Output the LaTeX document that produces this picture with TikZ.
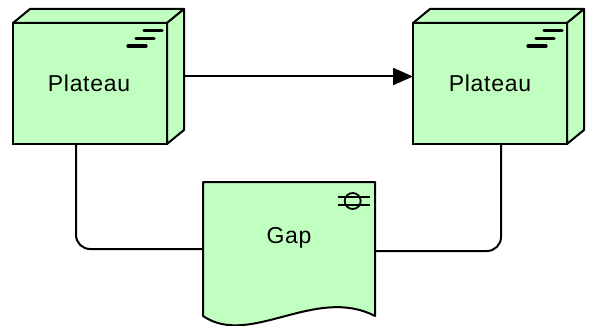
\documentclass[tikz,border=0pt]{standalone}
\usepackage{fontspec}
\setmainfont{Liberation Sans}[LetterSpace=3]
\usetikzlibrary{positioning, calc, arrows.meta}
\definecolor{plateaugreen}{HTML}{C0FFC0}
\newcommand{\plateauback}[1]{
    \draw[shape3d] (#1.north west) -- ++(17,-14) -- ($(#1.north east)+(17,-14)$) -- (#1.north east) -- cycle;
    \draw[shape3d] (#1.north east) -- ++(17,-14) -- ($(#1.south east)+(17,-14)$) -- (#1.south east) -- cycle;
    \draw[icon] ($(#1.north east)+(-23,7.5)$) -- ++(18,0);
    \draw[icon] ($(#1.north east)+(-31,15.5)$) -- ++(18,0);
    \draw[icon] ($(#1.north east)+(-39,23)$) -- ++(18,0);
}
\begin{document}
\begin{tikzpicture}[
        x=1pt, y=-1pt,
        line width=2pt,
        every node/.style={font=\fontsize{23}{27}\selectfont},
        box/.style={rectangle, draw=black, fill=plateaugreen, minimum width=154pt, minimum height=121pt, outer sep=0pt, align=center},
        shape3d/.style={draw=black, fill=plateaugreen, line join=round},
        icon/.style={line width=3.2pt, line cap=round},
        gapshape/.style={rectangle, minimum width=172pt, minimum height=134pt, outer sep=0pt},
        line/.style={line width=2pt, rounded corners=14pt},
        arrow/.style={-{Triangle[length=20pt, width=17pt]}, line width=2pt}
        ]
        \useasboundingbox (0,0) rectangle (591,326);

        \node[box] (plateauA) at (90,83.5) {\hspace*{-2pt}Plateau};
        \node[box, right=246pt of plateauA] (plateauB) {Plateau};
        \plateauback{plateauA}
        \plateauback{plateauB}
        \coordinate (sideA) at ($(plateauA.east)+(17,-7)$);

        \node[gapshape] (gap) at (289,249) {};
        \draw[shape3d] (gap.north west) -- (gap.north east) -- (gap.south east)
            .. controls (315,285) and (250,348) .. (gap.south west) -- cycle;
        \node[above=-4pt of gap.center] (gaplabel) {Gap};
        \node[circle, draw=black, line width=1.8pt, minimum size=16pt, inner sep=0pt] (gapicon) at (352.7,201) {};
        \draw[line width=1.7pt] ($(gapicon.center)+(-15,-4.3)$) -- ++(32,0);
        \draw[line width=1.7pt] ($(gapicon.center)+(-15,4.3)$) -- ++(32,0);

        \draw[arrow] (sideA) -- (plateauB.west |- sideA);
        \draw[line] ($(plateauA.south west)+(63,0)$) |- (gap.west);
        \draw[line] (gap.east) ++(0,2) -| ($(plateauB.south west)+(88,0)$);
    \end{tikzpicture}
\end{document}
